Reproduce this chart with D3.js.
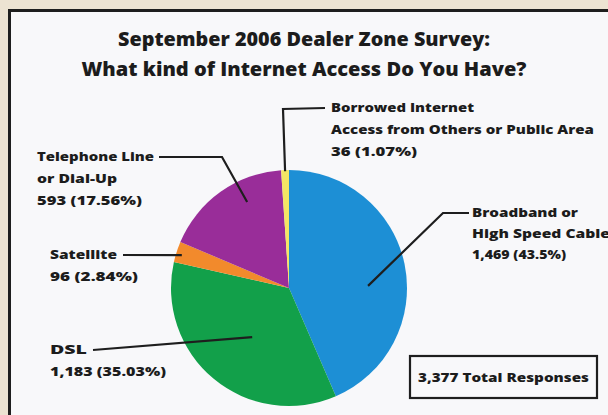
<!DOCTYPE html>
<html lang="en">
<head>
<meta charset="UTF-8">
<title>Dealer Zone Survey</title>
<script src="https://cdn.jsdelivr.net/npm/d3@7"></script>
<style>
  body { margin: 0; background: #ece3d2; }
  svg { display: block; }
  text { font-family: "Open Sans", "Liberation Sans", sans-serif; font-weight: 800; fill: #1c1c1c; }
</style>
</head>
<body>
<script>
// survey data
var categories = ["Broadband or High Speed Cable", "DSL", "Satellite", "Telephone Line or Dial-Up", "Borrowed Internet Access from Others or Public Area"];
var counts = [1469, 1183, 96, 593, 36];
var percents = ["43.5%", "35.03%", "2.84%", "17.56%", "1.07%"];
var labelLines = [["Broadband or", "High Speed Cable"], ["DSL"], ["Satellite"], ["Telephone Line", "or Dial-Up"], ["Borrowed Internet", "Access from Others or Public Area"]];
var colors = ["#1d8fd5", "#12a04a", "#f28a2c", "#992d99", "#f4e564"];

var W = 608, H = 415;
var cx = 289, cy = 288, R = 118;

// label placement: text position, leader start/elbow, end inside slice (t = fraction across slice, rf = radius fraction)
// widths = drawn width of each text line
var layout = [
  {x: 472, y: 217, lx: 469, elbow: [443, 213], t: 0.565, rf: 0.67, gap: 21, widths: [106, 138, 94]},
  {x: 50, y: 354, lx: 93, elbow: null, t: 0.478, rf: 0.52, gap: 22, widths: [37, 116]},
  {x: 50, y: 259, lx: 123, elbow: null, t: 0.42, rf: 0.95, gap: 22, widths: [67, 88]},
  {x: 37, y: 161, lx: 159, elbow: [222, 157], t: 0.65, rf: 0.81, gap: 22, widths: [117, 80, 105]},
  {x: 331, y: 112, lx: 325, elbow: [283, 109], t: 0.5, rf: 0.99, gap: 22, widths: [143, 263, 86]}
];

var svg = d3.select("body").append("svg").attr("width", W).attr("height", H);

// panel
svg.append("rect").attr("x", 9.5).attr("y", 10.5).attr("width", W).attr("height", H)
  .attr("fill", "#f8f8fa").attr("stroke", "#1e1e1e").attr("stroke-width", 3);

// title
var title = ["September 2006 Dealer Zone Survey:", "What kind of Internet Access Do You Have?"];
var titleW = [372, 445];
svg.selectAll("text.title").data(title).enter().append("text")
  .attr("class", "title")
  .attr("x", 304).attr("y", function(d, i){ return 46 + i * 30; })
  .attr("text-anchor", "middle")
  .attr("textLength", function(d, i){ return titleW[i]; })
  .attr("lengthAdjust", "spacingAndGlyphs")
  .style("font-size", "19px")
  .text(function(d){ return d; });

var pie = d3.pie().sort(null).value(function(d){ return d; });
var arcs = pie(counts);
var arc = d3.arc().innerRadius(0).outerRadius(R);

var g = svg.append("g").attr("transform", "translate(" + cx + "," + cy + ")");
g.selectAll("path").data(arcs).enter().append("path")
  .attr("d", arc)
  .attr("fill", function(d, i){ return colors[i]; });

var fmt = d3.format(",");

arcs.forEach(function(a, i){
  var L = layout[i];
  var ang = a.startAngle + (a.endAngle - a.startAngle) * L.t;
  var ex = cx + Math.sin(ang) * R * L.rf;
  var ey = cy - Math.cos(ang) * R * L.rf;
  var pts = [[L.lx, L.y - 4]];
  if (L.elbow) pts.push(L.elbow);
  pts.push([ex, ey]);
  svg.append("path")
    .attr("d", d3.line()(pts))
    .attr("fill", "none").attr("stroke", "#1e1e1e").attr("stroke-width", 2.2);

  var lines = labelLines[i].concat([fmt(counts[i]) + "  (" + percents[i] + ")"]);
  svg.selectAll(null).data(lines).enter().append("text")
    .attr("x", L.x).attr("y", function(d, j){ return L.y + j * L.gap; })
    .attr("textLength", function(d, j){ return L.widths[j]; })
    .attr("lengthAdjust", "spacingAndGlyphs")
    .style("font-size", "13px")
    .text(function(d){ return d; });
});

// total box
var total = d3.sum(counts);
svg.append("rect").attr("x", 410).attr("y", 356).attr("width", 187).attr("height", 42)
  .attr("fill", "none").attr("stroke", "#1e1e1e").attr("stroke-width", 2.2);
svg.append("text").attr("x", 503.5).attr("y", 382).attr("text-anchor", "middle")
  .attr("textLength", 171).attr("lengthAdjust", "spacingAndGlyphs")
  .style("font-size", "13px")
  .text(fmt(total) + " Total Responses");
</script>
</body>
</html>
